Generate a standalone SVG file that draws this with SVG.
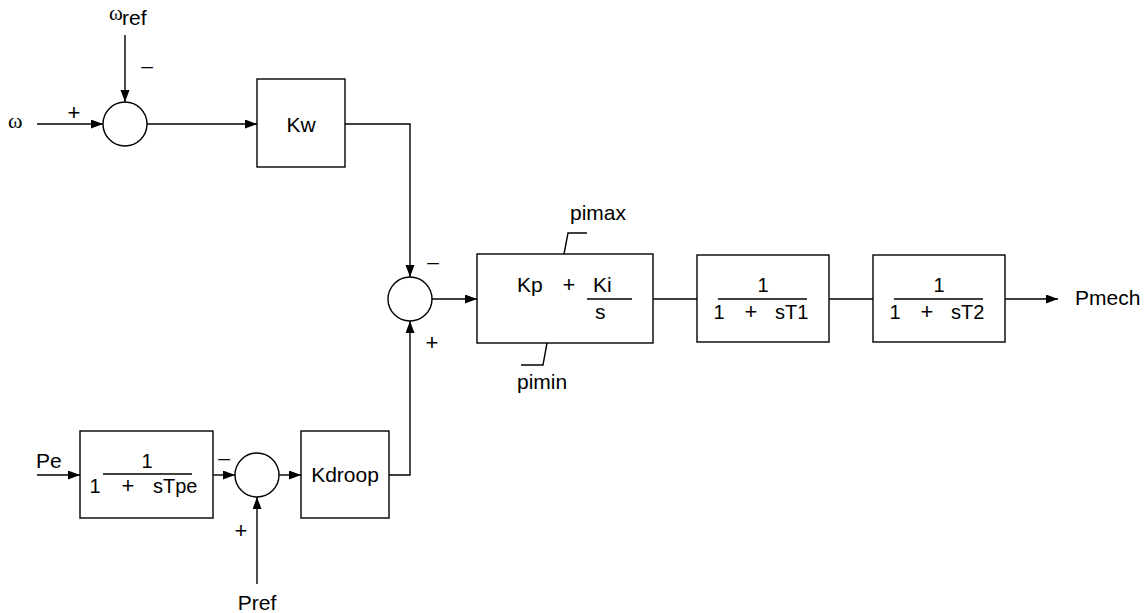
<svg xmlns="http://www.w3.org/2000/svg" width="1146" height="613" viewBox="0 0 1146 613">
<defs>
<marker id="arr" markerUnits="userSpaceOnUse" markerWidth="13" markerHeight="10" refX="12" refY="4.5" orient="auto">
<path d="M0,0 L12,4.5 L0,9 z" fill="#000"/>
</marker>
<style>
.box{fill:#fff;stroke:#000;stroke-width:1.4}
.ln{fill:none;stroke:#000;stroke-width:1.4}
.t{font-family:"Liberation Sans",Arial,sans-serif;font-size:21px;fill:#000}
.m{text-anchor:middle}
.w{font-family:"Liberation Serif","Times New Roman",serif;fill:#000}
.s{font-family:"Liberation Sans",Arial,sans-serif;font-size:20px;fill:#000}
.sg{font-family:"Liberation Sans",Arial,sans-serif;font-size:22px;fill:#000;text-anchor:middle}
.mn{font-family:"Liberation Sans",Arial,sans-serif;font-size:21px;fill:#000;text-anchor:middle}
</style>
</defs>
<rect width="1146" height="613" fill="#fff"/>
<g id="connectors">
<path class="ln" d="M37,124 H103" marker-end="url(#arr)"/>
<path class="ln" d="M125,35 V102" marker-end="url(#arr)"/>
<path class="ln" d="M147,124 H257" marker-end="url(#arr)"/>
<path class="ln" d="M345,124 H410 V277" marker-end="url(#arr)"/>
<path class="ln" d="M432,299 H477" marker-end="url(#arr)"/>
<path class="ln" d="M653,299 H697"/>
<path class="ln" d="M829,299 H873"/>
<path class="ln" d="M1005,299 H1058" marker-end="url(#arr)"/>
<path class="ln" d="M37,475 H80" marker-end="url(#arr)"/>
<path class="ln" d="M213,475 H235" marker-end="url(#arr)"/>
<path class="ln" d="M279,475 H301" marker-end="url(#arr)"/>
<path class="ln" d="M389,475 H410 V321" marker-end="url(#arr)"/>
<path class="ln" d="M257,584 V497" marker-end="url(#arr)"/>
</g>
<g id="in_w"><text class="w" x="8" y="128" font-size="22">ω</text><text class="sg" x="74" y="120">+</text></g>
<g id="in_wref"><text class="w" x="109" y="20" font-size="21">ω</text><text class="t" x="122" y="25" font-size="13px">ref</text><text class="mn" x="147" y="73">–</text></g>
<g id="sum1"><circle class="box" cx="125" cy="124" r="22"/></g>
<g id="Kw"><rect class="box" x="257" y="79" width="88" height="88"/><text class="t m" x="301" y="132">Kw</text></g>
<g id="sum2"><circle class="box" cx="410" cy="299" r="22"/><text class="mn" x="433" y="269">–</text><text class="sg" x="432" y="350">+</text></g>
<g id="PI">
<rect class="box" x="477" y="254" width="176" height="89"/>
<text class="t" x="517" y="292">Kp</text>
<text class="sg" x="569" y="292">+</text>
<text class="t" x="593" y="292">Ki</text>
<path class="ln" d="M587,299 H632"/>
<text class="t" x="595" y="319">s</text>
<path class="ln" d="M564,254 L568,233 H587"/>
<text class="t" x="570" y="220">pimax</text>
<path class="ln" d="M547,343 L543,365 H521"/>
<text class="t" x="517" y="389">pimin</text>
</g>
<g id="T1">
<rect class="box" x="697" y="255" width="132" height="87"/>
<text class="s m" x="763" y="292">1</text>
<path class="ln" d="M718,299 H807"/>
<text class="s m" x="719" y="319">1</text>
<text class="sg" x="751" y="319">+</text>
<text class="s" x="775" y="319">sT1</text>
</g>
<g id="T2">
<rect class="box" x="873" y="255" width="132" height="87"/>
<text class="s m" x="939" y="292">1</text>
<path class="ln" d="M894,299 H983"/>
<text class="s m" x="895" y="319">1</text>
<text class="sg" x="927" y="319">+</text>
<text class="s" x="951" y="319">sT2</text>
</g>
<g id="Pmech"><text class="t" x="1075" y="305">Pmech</text></g>
<g id="Pe"><text class="t" x="36" y="468">Pe</text></g>
<g id="Tpe">
<rect class="box" x="80" y="431" width="133" height="87"/>
<text class="s m" x="147" y="468">1</text>
<path class="ln" d="M103,474 H192"/>
<text class="s m" x="95" y="493">1</text>
<text class="sg" x="128" y="493">+</text>
<text class="s" x="153" y="493">sTpe</text>
</g>
<g id="sum3"><circle class="box" cx="257" cy="475" r="22"/><text class="mn" x="224" y="465">–</text><text class="sg" x="241" y="538">+</text></g>
<g id="Kdroop"><rect class="box" x="301" y="431" width="88" height="87"/><text class="t m" x="345" y="482">Kdroop</text></g>
<g id="Pref"><text class="t m" x="257" y="610">Pref</text></g>
</svg>
